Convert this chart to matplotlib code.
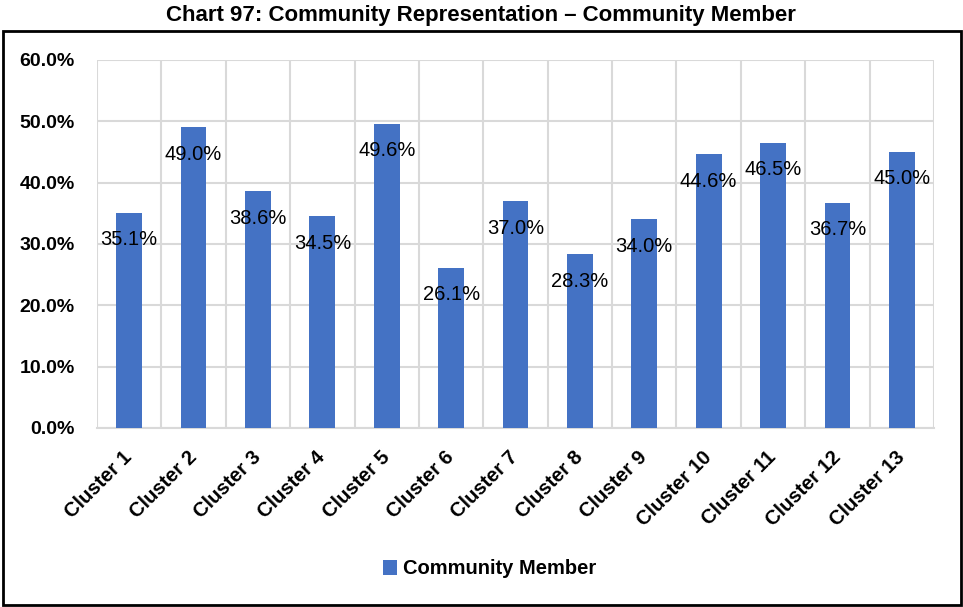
import matplotlib
matplotlib.use('Agg')
import matplotlib.pyplot as plt
from matplotlib.patches import Rectangle
import numpy as np

clusters = ['Cluster 1', 'Cluster 2', 'Cluster 3', 'Cluster 4', 'Cluster 5',
            'Cluster 6', 'Cluster 7', 'Cluster 8', 'Cluster 9', 'Cluster 10',
            'Cluster 11', 'Cluster 12', 'Cluster 13']
member = [35.1, 49.0, 38.6, 34.5, 49.6, 26.1, 37.0, 28.3, 34.0, 44.6, 46.5, 36.7, 45.0]
yticks = [0, 10, 20, 30, 40, 50, 60]

fam = 'Liberation Sans'
barColor = '#4472C4'
gridColor = '#D9D9D9'

fig = plt.figure(figsize=(9.63, 6.07), dpi=100)
ax = fig.add_axes([97/963, 1 - 428/607, (934 - 97)/963, (428 - 60)/607])

x = np.arange(len(clusters))
bars = ax.bar(x, member, width=0.4, color=barColor, label='Community Member', zorder=3)

# data labels sit just below the bar top
for xi, v in zip(x, member):
    ax.annotate(f'{v:.1f}%', (xi, v), xytext=(0, -27*0.72), textcoords='offset points',
                ha='center', va='center', fontsize=14.5, family=fam, zorder=4)

ax.set_xlim(-0.5, len(clusters) - 0.5)
ax.set_ylim(0, 60)
ax.set_yticks(yticks)
ax.set_yticklabels([f'{t:.1f}%' for t in yticks], fontsize=14, fontweight='bold', family=fam)
ax.set_xticks(x)
ax.set_xticklabels(clusters, rotation=45, ha='right', va='center', rotation_mode='anchor',
                   fontsize=14.5, fontweight='bold', family=fam)
ax.set_xticks(np.arange(-0.5, len(clusters)), minor=True)
ax.tick_params(axis='both', which='both', length=0)
ax.tick_params(axis='y', pad=16)
ax.tick_params(axis='x', pad=19)
ax.grid(True, axis='y', color=gridColor, lw=1.5, zorder=0)
ax.grid(True, axis='x', which='minor', color=gridColor, lw=1.5, zorder=0)
for s in ax.spines.values():
    s.set_visible(False)
ax.spines['bottom'].set_visible(True)
ax.spines['bottom'].set_color(gridColor)
ax.spines['bottom'].set_linewidth(1.5)

fig.legend(handles=[bars], labels=['Community Member'], loc='center', bbox_to_anchor=(490/963, 1 - 569/607),
           frameon=False, prop={'family': fam, 'weight': 'bold', 'size': 14.5},
           handlelength=0.7, handleheight=0.7, handletextpad=0.3)

fig.text(481/963, 1 - 15/607, 'Chart 97: Community Representation \u2013 Community Member',
         ha='center', va='center', fontsize=16, fontweight='bold', family=fam)

fig.patches.append(Rectangle((3/963, 2/607), 958/963, 574/607, transform=fig.transFigure,
                             fill=False, edgecolor='black', lw=2))

fig.savefig('out.png', dpi=100)
